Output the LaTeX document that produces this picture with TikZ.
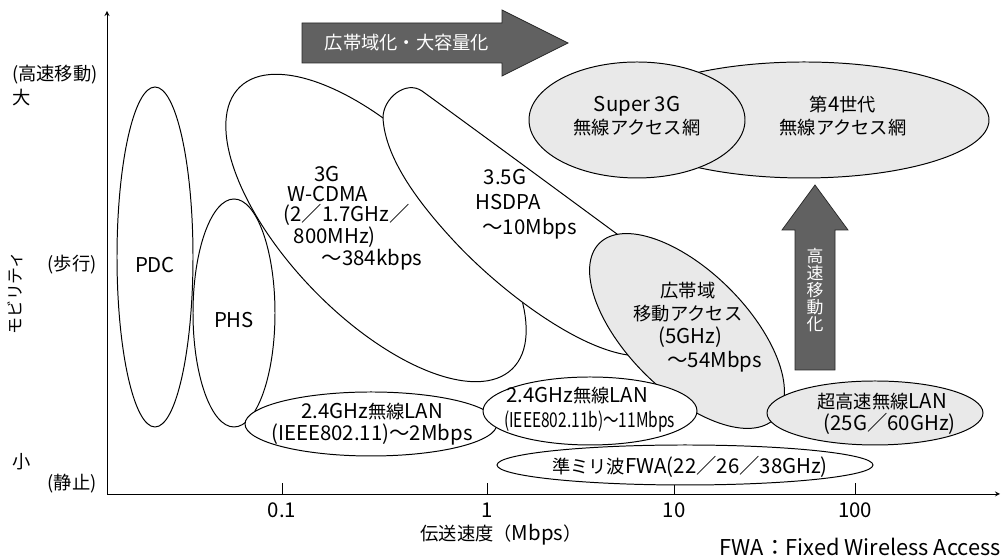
\documentclass[tikz,border=0pt]{standalone}
\usepackage{fontspec}
\setmainfont{Noto Sans CJK JP}
\newcommand\lat[1]{{\fontsize{14.5}{15}\selectfont#1}}
\begin{document}
\begin{tikzpicture}[x=0.025cm,y=0.025cm,>=stealth,
	every node/.style={font=\fontsize{13}{16}\selectfont,inner sep=0pt},
	latin/.style={font=\fontsize{14.5}{15}\selectfont},
	zone/.style={draw,line width=0.7pt,fill=white},
	zonegray/.style={draw,line width=0.7pt,fill=gray!17},
	bigarrow/.style={draw=black!85,line width=0.5pt,fill=black!62},
	lines/.style={align=center}]

\useasboundingbox (0,0) rectangle (1002,556);

% The axes
\coordinate (origin) at (107,62);
\coordinate (xend) at (1000,62);
\coordinate (yend) at (107,545);
\draw[->,line width=0.6pt] (origin) -- (xend);
\draw[->,line width=0.6pt] (origin) -- (yend);

% The ticks
\foreach \xx/\lab in {282/0.1,487/1,674/10,855/100}
{
	\draw[line width=0.6pt] (\xx,62) -- (\xx,73);
	\node[latin] (tick\lab) at (\xx,46) {\lab};
}

\node (xtitle) at (501,21) {伝送速度（\lat{Mbps}）};
\node[anchor=east,font=\fontsize{15.5}{16}\selectfont] (fwanote) at (1001,9) {FWA：Fixed Wireless Access};

\node (ymax) at (55,481) {(高速移動)};
\node (ybig) at (22,458) {大};
\node (ywalk) at (72,291) {(歩行)};
\node (ysmall) at (22,94) {小};
\node (ystop) at (72,72) {(静止)};
\node[rotate=90,font=\fontsize{12}{14}\selectfont] (ytitle) at (15,263) {モビリティ};

% The cellular systems
\draw[zone] (155,299) ellipse [x radius=38,y radius=170];
\draw[zone] (234,243) ellipse [x radius=41,y radius=114];
\draw[zone,rotate around={-46:(376,328)}] (376,328) ellipse [x radius=196,y radius=88];
% 3.5G: blunt at the top left, its far end runs under the broadband zone
\draw[zone] (383,438) .. controls (383,458) and (406,476) .. (422,465)
	.. controls (477,425) and (560,364) .. (640,305)
	.. controls (700,260) and (710,205) .. (640,200)
	.. controls (585,200) and (500,265) .. (453,316)
	.. controls (415,357) and (385,400) .. (383,438) -- cycle;

\node[latin] (pdc) at (155,291) {PDC};
\node[latin] (phs) at (234,236) {PHS};
\node[lines,font=\fontsize{14.5}{14.2}\selectfont] (wcdma) at (327,338) {3G\\\hspace*{1.4pt}W-CDMA\\\hspace*{28pt}(2／1.7GHz／\\\hspace*{11pt}800MHz)\\\hspace*{64pt}～384kbps};
\node[lines,font=\fontsize{14.5}{17.7}\selectfont] (hsdpa) at (505,352) {3.5G\\\hspace*{4pt}HSDPA\\\hspace*{35pt}～10Mbps};

% Broadband mobile access and the next networks
\draw[zonegray,rotate around={-45:(687,225)}] (687,225) ellipse [x radius=124,y radius=60];
\draw[zonegray] (804,436) ellipse [x radius=185,y radius=58];
\draw[zonegray] (637,436) ellipse [x radius=108,y radius=58];

\node[lines,font=\fontsize{13}{16.5}\selectfont] (bwa) at (688,229) {広帯域\\移動アクセス\\\hspace*{3pt}\lat{(5GHz)}\\\hspace*{38pt}\lat{～54Mbps}};
\node[lines,font=\fontsize{13}{16.3}\selectfont] (super3g) at (637,440) {\lat{Super 3G}\\無線アクセス網};
\node[lines,font=\fontsize{13}{16.3}\selectfont] (gen4) at (843,440) {第\lat{4}世代\\無線アクセス網};

% Wireless LAN and FWA
\draw[zone] (371,132) ellipse [x radius=126,y radius=32];
\draw[zone] (590,145) ellipse [x radius=107,y radius=34];
\draw[zone] (685,91) ellipse [x radius=188,y radius=20];
\draw[zonegray] (875,143) ellipse [x radius=108,y radius=32];

\node[lines,font=\fontsize{13}{15.6}\selectfont] (lan11) at (372,132) {\lat{2.4GHz}無線\lat{LAN}\\\lat{(IEEE802.11)～2Mbps}};
\node[lines,font=\fontsize{13}{17.7}\selectfont] (lan11b) at (577,146) {\lat{2.4GHz}無線\lat{LAN}\\\hspace*{18pt}\scalebox{0.76}[1]{\lat{(IEEE802.11b)～11Mbps}}};
\node (fwa) at (690,89) {準ミリ波\lat{FWA(22／26／38GHz)}};
\node[lines,font=\fontsize{13}{15.6}\selectfont] (lanuhs) at (882,142) {超高速無線\lat{LAN}\\\hspace*{11pt}\lat{(25G／60GHz)}};

% The trend arrows
\draw[bigarrow] (302,533) -- (502,533) -- (502,546) -- (568,513) -- (502,480) -- (502,493) -- (302,493) -- cycle;
\node[text=white] (wider) at (407,513) {広帯域化・大容量化};
\draw[bigarrow] (795,186) -- (795,326) -- (782,326) -- (815,371) -- (848,326) -- (835,326) -- (835,186) -- cycle;
\node[text=white,align=center,font=\fontsize{12}{12}\selectfont] (faster) at (815,266) {高\\速\\移\\動\\化};

\end{tikzpicture}
\end{document}
